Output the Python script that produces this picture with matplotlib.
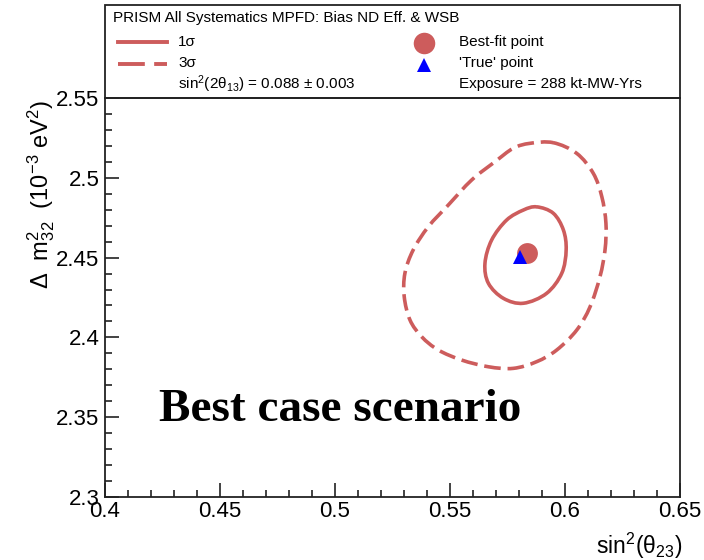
import matplotlib
matplotlib.use("Agg")
import matplotlib.pyplot as plt
import numpy as np
from matplotlib.patches import Rectangle, PathPatch
from matplotlib.path import Path
from matplotlib.lines import Line2D

plt.rcParams['font.family'] = ['Liberation Sans', 'DejaVu Sans']
plt.rcParams['mathtext.fontset'] = 'custom'
plt.rcParams['mathtext.rm'] = 'Liberation Sans'
plt.rcParams['mathtext.it'] = 'Liberation Sans:italic'
plt.rcParams['mathtext.bf'] = 'Liberation Sans:bold'

# ---------------- data ----------------
sigma1_x = [0.5877, 0.5949, 0.5993, 0.6005, 0.5986, 0.5920, 0.5819, 0.5732,
            0.5667, 0.5652, 0.5681, 0.5746, 0.5819]
sigma1_y = [2.4818, 2.4778, 2.4673, 2.4548, 2.4402, 2.4276, 2.4214, 2.4245,
            2.4339, 2.4464, 2.4610, 2.4735, 2.4798]

sigma3_x = [0.5949, 0.6051, 0.6123, 0.6160, 0.6178, 0.6174, 0.6152, 0.6109,
            0.6051, 0.5964, 0.5877, 0.5775, 0.5667, 0.5551, 0.5449, 0.5377,
            0.5326, 0.5301, 0.5304, 0.5340, 0.5406, 0.5493, 0.5594, 0.5696,
            0.5775, 0.5848]
sigma3_y = [2.5220, 2.5153, 2.5028, 2.4882, 2.4715, 2.4548, 2.4380, 2.4192,
            2.4046, 2.3921, 2.3848, 2.3806, 2.3816, 2.3858, 2.3921, 2.4004,
            2.4109, 2.4255, 2.4402, 2.4548, 2.4694, 2.4830, 2.4986, 2.5101,
            2.5185, 2.5216]

bestfit = (0.5835, 2.4527)
true_pt = (0.5805, 2.4505)

x_ticks = [0.4, 0.45, 0.5, 0.55, 0.6, 0.65]
x_ticklabels = ['0.4', '0.45', '0.5', '0.55', '0.6', '0.65']
y_ticks = [2.3, 2.35, 2.4, 2.45, 2.5, 2.55]
y_ticklabels = ['2.3', '2.35', '2.4', '2.45', '2.5', '2.55']

RED = '#CD5C5C'
BLUE = '#0000FF'

W, H = 704, 560
fig = plt.figure(figsize=(W / 100, H / 100), dpi=100)

def fx(x):
    return x / W

def fy(y):
    return 1 - y / H

ax = fig.add_axes([fx(105), fy(497), (680 - 105) / W, (497 - 98) / H])


def smooth_closed(xs, ys):
    """Closed curve passing through the given points (Catmull-Rom as Bezier)."""
    p = np.column_stack([xs, ys])
    n = len(p)
    verts = [p[0]]
    codes = [Path.MOVETO]
    for i in range(n):
        p0, p1, p2, p3 = p[i - 1], p[i], p[(i + 1) % n], p[(i + 2) % n]
        c1 = p1 + (p2 - p0) / 6.0
        c2 = p2 - (p3 - p1) / 6.0
        verts += [c1, c2, p2]
        codes += [Path.CURVE4] * 3
    return Path(verts, codes)


ax.add_patch(PathPatch(smooth_closed(sigma1_x, sigma1_y), fill=False, ec=RED,
                       lw=2.6, joinstyle='round'))
ax.add_patch(PathPatch(smooth_closed(sigma3_x, sigma3_y), fill=False, ec=RED,
                       lw=2.6, ls=(0, (4.6, 1.9)), capstyle='butt'))
ax.plot([bestfit[0]], [bestfit[1]], 'o', color=RED, ms=15, mec=RED, mew=0)
ax.plot([true_pt[0]], [true_pt[1]], '^', color=BLUE, ms=10.5, mec=BLUE, mew=0)

ax.set_xlim(0.4, 0.65)
ax.set_ylim(2.3, 2.55)
ax.set_xticks(x_ticks)
ax.set_xticklabels(x_ticklabels)
ax.set_yticks(y_ticks)
ax.set_yticklabels(y_ticklabels)
ax.set_xticks([0.4 + 0.01 * i for i in range(26)], minor=True)
ax.set_yticks([2.3 + 0.01 * i for i in range(26)], minor=True)
ax.tick_params(which='both', direction='in', top=False, right=False,
               labelsize=16, width=1.2, color='#222222')
ax.tick_params(which='major', length=10)
ax.tick_params(which='minor', length=5)
ax.tick_params(axis='y', pad=4)
ax.tick_params(axis='x', pad=3)
for s in ax.spines.values():
    s.set_linewidth(1.3)
    s.set_color('#222222')

# axis titles
fig.text(fx(682), fy(546), 'sin$^{2}$(θ$_{23}$)', ha='right',
         va='center', fontsize=16.5)
fig.text(fx(48), fy(100),
         r'Δ  m$^{2}_{32}$  (10$^{-3}$ eV$^{2}$)',
         rotation=90, ha='right', va='baseline', rotation_mode='anchor',
         fontsize=17)

# big annotation
fig.text(fx(340), fy(410), 'Best case scenario', ha='center', va='center',
         fontsize=34, fontweight='bold', family=['Liberation Serif', 'DejaVu Serif'])

# legend box
LFS = 11
fig.patches.append(Rectangle((fx(105), fy(98)), (680 - 105) / W, (98 - 5) / H,
                             transform=fig.transFigure, fill=False,
                             lw=1.3, ec='#222222'))
fig.text(fx(113), fy(18), 'PRISM All Systematics MPFD: Bias ND Eff. & WSB',
         ha='left', va='center', fontsize=LFS)
fig.add_artist(Line2D([fx(118), fx(167)], [fy(42), fy(42)], color=RED, lw=2.8))
fig.add_artist(Line2D([fx(118), fx(167)], [fy(64), fy(64)], color=RED, lw=2.8,
                      dashes=(6.9, 2.4)))
fig.text(fx(178), fy(42), '1σ', ha='left', va='center', fontsize=LFS)
fig.text(fx(178), fy(63), '3σ', ha='left', va='center', fontsize=LFS)
fig.text(fx(178), fy(84), 'sin$^{2}$(2θ$_{13}$) = 0.088 ± 0.003',
         ha='left', va='center', fontsize=LFS)
fig.add_artist(Line2D([fx(424)], [fy(43)], marker='o', color=RED, ms=15.5,
                      mec=RED, mew=0))
fig.add_artist(Line2D([fx(424)], [fy(65)], marker='^', color=BLUE, ms=10,
                      mec=BLUE, mew=0))
fig.text(fx(459), fy(42), 'Best-fit point', ha='left', va='center',
         fontsize=LFS)
fig.text(fx(459), fy(63), "'True' point", ha='left', va='center',
         fontsize=LFS)
fig.text(fx(459), fy(84), 'Exposure = 288 kt-MW-Yrs', ha='left', va='center',
         fontsize=LFS)

fig.savefig('out.png', dpi=100)
